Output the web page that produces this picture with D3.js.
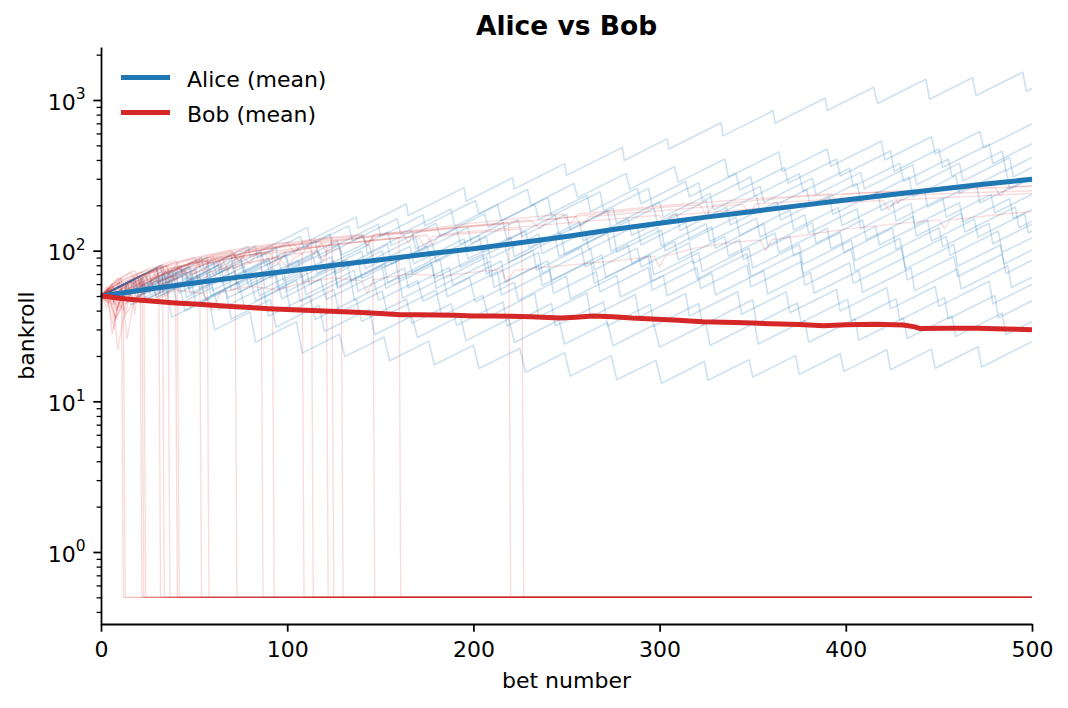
<!DOCTYPE html>
<html>
<head>
<meta charset="utf-8">
<script src="https://cdn.jsdelivr.net/npm/d3@7"></script>
<style>
  body { margin: 0; background: #fff; }
  svg { display: block; }
</style>
</head>
<body>
<div id="chart"></div>
<script>
// ---- data: [bet number, bankroll] ----
var xTicks = [0, 100, 200, 300, 400, 500];
var yMajorTicks = [1, 10, 100, 1000];

var aliceMean = [[0,50],[25,55.5],[50,61],[75,67],[100,73],[125,80],[150,87],[175,95],[200,103],[225,113],[250,124],
  [275,138],[300,152],[325,167],[350,182],[375,199],[400,217],[425,236],[450,256],[475,277],[500,298]];

var bobMean = [[0,50],[5,49.2],[10,48.3],[15,47.6],[20,47],[30,46],[40,45],[50,44.3],[60,43.5],[70,42.6],[80,41.9],
  [90,41.2],[100,40.7],[110,40.2],[120,39.7],[130,39.3],[140,38.9],[150,38.3],[161,37.5],[170,37.6],[180,37.4],
  [190,37.2],[200,36.9],[210,36.8],[220,36.7],[231,36.4],[240,36],[247,35.7],[255,36.2],[264,36.9],[275,36.4],
  [285,35.7],[296,35.2],[310,34.5],[323,33.8],[340,33.4],[350,33.1],[360,32.7],[375,32.3],[388,31.8],[400,32.2],
  [416,32.5],[431,32.1],[437,31.2],[440,30.4],[455,30.5],[471,30.6],[485,30.2],[500,29.9]];

// individual Alice runs (light blue sawtooth lines)
var alicePaths = [
  [[0,50],[26,72.6],[27,61.5],[54,90.4],[55,76.2],[79,107],[80,92],[111,143],[112,117],[137,167],[138,141],[164,204],[165,171],[195,262],[196,213],[221,304],[222,257],[249,378],[250,316],[280,485],[281,397],[304,552],[305,473],[333,706],[334,578],[361,849],[362,701],[389,1030],[390,851],[415,1216],[417,948],[443,1374],[445,1012],[468,1406],[470,1072],[495,1531],[497,1140],[500,1191]],
  [[0,50],[17,63.8],[18,55.6],[43,79.4],[44,64.6],[70,93.5],[71,75.5],[94,105],[95,86.7],[123,129],[124,105],[149,150],[150,124],[173,173],[174,146],[201,215],[203,176],[229,255],[231,200],[254,279],[256,225],[282,326],[284,256],[308,361],[310,284],[335,406],[337,308],[364,452],[366,336],[390,473],[392,363],[419,533],[421,400],[446,571],[448,439],[472,618],[474,480],[500,695]],
  [[0,50],[21,67.6],[23,55.7],[47,78.5],[49,62.8],[75,91],[77,71.4],[99,97.7],[101,79.8],[127,116],[129,93.3],[154,133],[156,108],[180,152],[182,125],[206,176],[208,143],[233,204],[235,161],[261,233],[263,182],[288,260],[290,205],[314,288],[316,228],[341,325],[343,253],[367,356],[369,280],[395,406],[397,313],[424,459],[426,336],[450,473],[452,356],[477,509],[479,379],[500,512]],
  [[0,50],[30,76.9],[31,62.1],[57,89.9],[58,74.8],[83,107],[84,89.5],[107,124],[109,104],[133,146],[135,116],[159,163],[161,129],[188,189],[190,145],[213,202],[215,158],[240,225],[242,170],[268,246],[270,184],[294,259],[296,197],[321,282],[323,213],[349,308],[351,230],[375,324],[377,247],[402,352],[404,266],[429,380],[431,288],[455,406],[457,312],[484,458],[486,340],[500,416]],
  [[0,50],[12,59.4],[14,52.6],[38,74.1],[40,57.5],[64,81.1],[66,63],[90,88.7],[92,68.9],[117,98.4],[119,77.3],[144,110],[146,87.5],[169,122],[171,98.2],[197,142],[199,112],[224,160],[226,124],[250,175],[252,137],[275,191],[277,152],[300,211],[302,167],[327,239],[329,187],[354,267],[356,209],[382,303],[384,235],[408,331],[410,257],[436,372],[438,274],[461,381],[463,290],[488,415],[490,309],[500,356]],
  [[0,50],[33,80.4],[35,60.4],[60,86.3],[62,69.7],[86,98.2],[88,79.8],[115,117],[117,89.1],[141,126],[143,95.9],[167,135],[169,103],[191,141],[193,110],[216,153],[218,118],[244,171],[246,127],[272,185],[274,138],[297,191],[299,148],[325,214],[327,163],[352,232],[354,178],[379,255],[381,196],[406,280],[408,213],[434,308],[436,227],[459,316],[461,240],[486,344],[488,256],[500,303]],
  [[0,50],[18,64.9],[20,52.5],[45,75],[47,55.8],[71,78.7],[73,59.3],[96,82.4],[98,62.8],[124,91],[126,70.3],[151,100],[153,78.5],[175,107],[177,86.9],[203,126],[205,97],[228,135],[230,105],[257,155],[259,116],[283,163],[285,126],[309,177],[311,136],[336,195],[338,148],[363,211],[365,160],[391,232],[393,174],[417,245],[419,185],[442,257],[444,195],[470,282],[472,207],[500,308]],
  [[0,50],[22,68.5],[24,55.1],[48,77.6],[50,61],[75,87.1],[77,67.8],[99,92.7],[101,74.3],[128,109],[130,77.8],[154,110],[156,81.1],[178,111],[180,84.3],[207,124],[209,89.1],[235,129],[237,95.7],[260,133],[262,102],[288,148],[290,109],[314,154],[316,117],[341,167],[343,126],[370,186],[372,137],[396,193],[398,147],[425,216],[427,157],[452,225],[454,167],[478,236],[480,178],[500,237]],
  [[0,50],[32,79.1],[34,52.5],[58,74],[60,54.5],[86,78.9],[88,56.6],[110,77.4],[112,59.8],[138,86.7],[140,65.5],[165,93.5],[167,71.4],[191,101],[193,77.6],[217,109],[219,84.1],[244,120],[246,91.2],[272,132],[274,99.1],[299,142],[301,107],[325,151],[327,115],[352,164],[354,123],[378,173],[380,131],[406,190],[408,140],[435,206],[437,148],[461,208],[463,155],[488,221],[490,163],[500,188]],
  [[0,50],[17,63.8],[19,53.1],[36,67.6],[38,56.1],[63,80.2],[65,61],[89,85.9],[91,65.8],[114,91.4],[116,70.6],[140,99.5],[142,75.9],[166,107],[168,81.7],[195,120],[197,88.3],[220,123],[222,91.4],[247,131],[249,94.4],[275,137],[277,97.5],[301,137],[303,100],[328,144],[330,104],[356,151],[358,108],[382,153],[384,112],[409,160],[411,118],[436,168],[438,125],[462,177],[464,133],[491,195],[493,142],[500,157]],
  [[0,50],[20,66.7],[22,50.9],[46,71.8],[48,51.8],[72,72.9],[74,52.7],[98,74.3],[100,53.7],[125,76.7],[127,57.5],[152,82.2],[154,61.5],[177,85.5],[179,65.6],[205,95.1],[207,70.1],[232,100],[234,74.3],[258,105],[260,78.3],[283,109],[285,82.6],[308,115],[310,86.9],[335,124],[337,91.8],[362,131],[364,97.3],[390,141],[392,103],[416,145],[418,109],[444,158],[446,116],[469,162],[471,123],[496,176],[498,131],[500,135]],
  [[0,50],[24,70.6],[26,52.8],[51,75.5],[53,56],[77,78.9],[79,59],[106,86.7],[108,61.9],[132,87.3],[134,63.1],[158,88.9],[160,64.3],[182,87.9],[184,65.3],[207,90.8],[209,67.1],[235,97.3],[237,70.8],[263,103],[265,74.5],[288,104],[290,78],[316,113],[318,82.4],[343,118],[345,87.3],[370,125],[372,92.3],[397,132],[399,97.5],[425,141],[427,102],[450,142],[452,106],[477,152],[479,111],[500,150]],
  [[0,50],[30,76.9],[32,50.1],[57,71.6],[59,50.1],[83,70.6],[85,50.1],[108,69.7],[110,51.1],[136,74],[138,53.7],[163,76.7],[165,56.5],[187,77.3],[189,59],[215,85.5],[217,61.7],[240,85.7],[242,63.8],[269,93.8],[271,66.5],[295,93.8],[297,68.9],[321,97],[323,72.6],[348,104],[350,76.7],[375,110],[377,81.1],[403,117],[405,85.9],[429,121],[431,89.5],[454,124],[456,93.1],[482,135],[484,97.5],[500,122]],
  [[0,50],[13,60.4],[15,51.1],[40,72.9],[42,52.6],[68,76.2],[70,54.3],[93,75.5],[95,56],[125,85.9],[127,56.2],[151,79.3],[153,56.2],[178,80.4],[180,56.2],[209,85.1],[211,57],[235,80.4],[237,58.7],[263,85.1],[265,60.7],[294,91.8],[296,62.8],[318,85.9],[320,64.9],[347,95.3],[349,67.5],[375,97.7],[377,70.1],[403,102],[405,72.9],[430,104],[432,75.7],[458,110],[460,78.7],[483,109],[485,81.5],[500,101]],
  [[0,50],[9,57],[12,49.5],[27,61.4],[30,48.8],[53,67.8],[56,47.6],[80,67.1],[83,46.5],[105,63.5],[107,46],[134,67.6],[136,47.2],[160,66.5],[162,48.4],[184,66.2],[186,49.4],[213,72.6],[215,50.8],[241,73.6],[243,52.1],[266,72.4],[268,53.3],[294,77.3],[296,54.7],[320,77.1],[322,56.1],[347,80.2],[349,57.5],[376,84.5],[378,59],[402,83.2],[404,60.7],[431,89.1],[433,64],[458,91.4],[460,67.3],[484,94.8],[486,70.6],[500,86.3]],
  [[0,50],[16,63],[19,49.7],[43,70],[46,49.1],[65,64.4],[68,48.5],[94,70.3],[97,48],[118,64.7],[121,47.4],[146,67.8],[149,46.8],[170,63.1],[173,46.2],[198,66.1],[201,45.7],[222,61.7],[224,46.8],[250,67.8],[252,48],[277,68.5],[279,49.2],[302,68.4],[304,50.2],[328,70.8],[330,50.8],[356,73.6],[358,51.5],[381,71.6],[383,52.1],[407,73.5],[409,53],[435,76.7],[437,54.3],[460,75.5],[462,55.6],[487,79.4],[489,57],[500,66.7]],
  [[0,50],[21,67.6],[24,47.4],[48,66.8],[51,44.6],[74,61.9],[77,42],[99,57.4],[102,39.7],[125,55.2],[128,38.8],[151,54],[154,37.8],[180,54.8],[183,36.9],[205,50.5],[208,36.3],[233,51.9],[235,36.3],[261,52.6],[263,36.3],[287,51.2],[289,36.3],[314,51.9],[316,36.8],[342,53.3],[344,37.8],[368,53.3],[370,38.7],[395,55.3],[397,39.7],[422,56.8],[424,41.1],[448,57.9],[450,42.7],[477,62.7],[479,44.4],[500,59.8]],
  [[0,50],[14,61.2],[17,47.3],[38,63.8],[41,43.6],[60,57.1],[63,40.4],[87,56.9],[90,36.7],[112,50.2],[115,34.9],[137,47.8],[140,33.9],[164,47.8],[167,32.9],[188,44.4],[191,32],[216,45.7],[218,31.6],[242,44.6],[244,31.6],[270,45.8],[272,31.6],[295,44],[297,31.6],[321,44.6],[323,32.1],[350,47.2],[352,32.8],[374,44.9],[376,33.3],[401,47.6],[403,34],[427,47.9],[429,34.6],[453,48.8],[455,35.2],[480,50.4],[482,35.9],[500,46.5]],
  [[0,50],[18,64.9],[21,45.1],[42,60.8],[45,39.9],[67,54.6],[70,35.2],[91,47.4],[94,31.1],[117,43.3],[120,29.1],[144,41],[147,27.7],[167,36.8],[170,26.5],[193,36.9],[196,25.3],[219,35.2],[222,24.6],[246,34.7],[249,24],[272,33.3],[275,23.4],[297,32.1],[300,22.9],[325,32.7],[327,23.5],[351,33.1],[353,24],[378,34.4],[380,24.7],[405,35.2],[407,25.4],[431,35.7],[433,26.1],[457,36.8],[459,26.9],[484,38.5],[486,27.7],[500,33.9]],
  [[0,50],[13,60.4],[16,43.8],[35,57.4],[38,36.2],[58,48.2],[61,29.8],[80,39.1],[83,24.7],[105,33.8],[108,20.9],[128,27.9],[131,19.8],[152,26.7],[155,18.6],[176,25.1],[179,17.5],[200,23.6],[203,16.5],[225,22.5],[228,15.6],[249,21],[252,14.7],[274,20.1],[277,13.9],[298,18.7],[301,13.2],[324,18.4],[326,13.8],[348,18.9],[350,14.5],[373,20.1],[375,15.1],[397,20.7],[399,15.8],[422,22],[424,16.2],[446,22.2],[448,16.6],[471,23],[473,16.9],[500,24.9]]
];

// individual Bob runs (light red); busted runs sit on the 0.5 floor
var bobPaths = [
  [[0,50],[4,56],[6,44],[9,52],[15,60],[20,64],[23,52],[26,62],[35,72],[45,79],[55,86],[62,80],[66,90],[80,98],[95,106],[104,110],[108,94],[112,112],[130,120],[150,127],[162,131],[165,112],[168,132],[190,143],[210,151],[230,160],[236,140],[240,160],[260,172],[285,185],[310,198],[322,201],[325,170],[329,200],[350,215],[380,230],[410,242],[425,245],[428,205],[432,244],[460,255],[485,262],[500,268]],
  [[0,50],[3,42],[5,50],[12,57],[18,66],[28,74],[31,58],[34,72],[44,80],[58,90],[70,97],[75,84],[78,98],[92,105],[110,113],[128,122],[140,126],[143,108],[146,127],[170,137],[195,150],[220,162],[248,175],[252,150],[256,175],[280,187],[305,200],[330,212],[360,225],[392,238],[395,210],[399,238],[430,250],[455,258],[480,265],[483,230],[487,264],[500,270]],
  [[0,50],[5,55],[8,40],[11,49],[18,58],[27,68],[40,78],[48,70],[52,81],[65,90],[85,100],[100,107],[118,115],[121,98],[124,116],[145,124],[170,133],[200,145],[225,155],[255,168],[258,145],[262,168],[290,180],[320,193],[345,203],[348,176],[352,204],[380,215],[410,227],[440,236],[470,243],[500,250]],
  [[0,50],[6,58],[9,47],[14,54],[24,63],[36,73],[50,82],[63,88],[66,74],[70,89],[88,98],[105,104],[125,111],[150,119],[175,127],[178,110],[182,128],[210,138],[240,149],[270,160],[300,172],[303,150],[307,172],[335,183],[365,195],[395,207],[420,216],[423,186],[427,216],[450,224],[475,232],[500,240]],
  [[0,50],[5,45],[8,36],[12,44],[20,50],[30,47],[40,55],[55,52],[60,40],[64,53],[80,58],[95,55],[110,62],[125,66],[140,63],[143,52],[146,64],[165,70],[185,68],[200,72],[215,75],[218,62],[222,74],[240,78],[260,82],[278,86],[297,92],[300,78],[303,92],[319,104],[335,112],[354,118],[357,100],[360,118],[386,131],[400,139],[425,150],[450,160],[453,140],[456,160],[475,170],[500,182]],
  [[0,50],[3,58],[6,48],[9,60],[11,66],[12,0.5],[500,0.5]],
  [[0,50],[4,44],[7,30],[9,42],[12,52],[13,0.5],[500,0.5]],
  [[0,50],[5,57],[8,46],[12,58],[16,64],[18,38],[20,55],[21,60],[22,0.5],[500,0.5]],
  [[0,50],[4,53],[7,34],[10,47],[15,56],[19,62],[22,66],[23,0.5],[500,0.5]],
  [[0,50],[6,60],[9,52],[14,64],[17,46],[20,60],[23,68],[24,0.5],[500,0.5]],
  [[0,50],[5,55],[10,62],[13,38],[16,54],[22,64],[26,52],[29,66],[31,72],[32,0.5],[500,0.5]],
  [[0,50],[4,47],[6,28],[9,44],[15,55],[20,62],[25,56],[28,66],[33,74],[34,0.5],[500,0.5]],
  [[0,50],[5,58],[9,65],[12,50],[15,64],[22,72],[26,62],[30,74],[36,80],[37,0.5],[500,0.5]],
  [[0,50],[3,46],[6,52],[11,58],[14,26],[17,42],[23,55],[30,64],[35,48],[38,62],[40,68],[41,0.5],[500,0.5]],
  [[0,50],[6,56],[10,64],[16,72],[20,58],[24,70],[32,80],[36,70],[41,82],[42,0.5],[500,0.5]],
  [[0,50],[5,54],[9,42],[13,55],[22,66],[30,74],[33,56],[37,72],[45,80],[50,84],[53,88],[54,0.5],[500,0.5]],
  [[0,50],[4,56],[8,48],[12,40],[16,52],[25,62],[35,72],[40,64],[44,74],[52,82],[57,86],[58,0.5],[500,0.5]],
  [[0,50],[6,58],[10,48],[14,60],[24,70],[32,77],[36,60],[40,76],[52,86],[60,92],[64,76],[67,90],[72,96],[73,0.5],[500,0.5]],
  [[0,50],[5,47],[8,35],[12,46],[20,58],[30,66],[42,76],[48,64],[52,78],[65,88],[75,94],[80,82],[83,94],[86,98],[87,0.5],[500,0.5]],
  [[0,50],[4,55],[8,62],[12,52],[17,64],[28,74],[38,82],[50,90],[55,72],[59,88],[72,97],[85,104],[92,108],[93,0.5],[500,0.5]],
  [[0,50],[6,54],[9,22],[12,36],[20,50],[30,58],[45,68],[58,76],[64,62],[68,75],[82,84],[95,90],[100,78],[104,90],[108,95],[109,0.5],[500,0.5]],
  [[0,50],[5,58],[10,66],[14,54],[20,66],[32,76],[45,85],[60,94],[70,100],[74,84],[78,100],[95,108],[108,114],[113,118],[114,0.5],[500,0.5]],
  [[0,50],[4,45],[7,52],[16,60],[26,68],[30,48],[34,64],[46,74],[60,84],[75,92],[90,98],[95,82],[99,97],[112,104],[121,108],[122,0.5],[500,0.5]],
  [[0,50],[6,60],[12,68],[18,74],[22,58],[26,72],[38,82],[52,91],[68,100],[85,108],[100,114],[104,96],[108,114],[120,120],[124,124],[125,0.5],[500,0.5]],
  [[0,50],[5,52],[9,40],[13,50],[24,60],[36,66],[50,74],[54,58],[58,72],[72,80],[88,88],[102,94],[116,100],[119,86],[122,99],[129,104],[130,0.5],[500,0.5]],
  [[0,50],[5,56],[12,64],[22,72],[35,80],[38,64],[42,78],[58,88],[75,96],[92,104],[110,112],[114,94],[118,112],[132,118],[146,124],[147,0.5],[500,0.5]],
  [[0,50],[4,54],[8,44],[12,54],[25,64],[40,74],[56,82],[72,90],[88,97],[92,80],[96,96],[112,104],[128,110],[144,116],[156,120],[160,122],[161,0.5],[500,0.5]],
  [[0,50],[6,57],[14,66],[26,76],[40,86],[44,70],[48,84],[62,94],[80,104],[100,113],[120,121],[140,128],[143,108],[147,128],[165,134],[185,141],[205,147],[219,152],[220,0.5],[500,0.5]],
  [[0,50],[5,52],[10,60],[20,68],[32,74],[48,82],[65,90],[68,74],[72,88],[90,96],[110,104],[130,111],[150,118],[170,124],[174,106],[178,124],[200,131],[215,136],[226,140],[227,0.5],[500,0.5]]
];

var legendItems = [
  { name: "Alice (mean)", color: "#1f77b4" },
  { name: "Bob (mean)", color: "#d62728" }
];

// ---- drawing ----
var width = 1068, height = 708;
var margin = { top: 47, right: 36, bottom: 84, left: 101 };
var font = "DejaVu Sans, sans-serif";

var svg = d3.select("#chart")
    .append("svg")
    .attr("width", width)
    .attr("height", height)
    .style("font-family", font);

var x = d3.scaleLinear()
    .domain([0, 500])
    .range([margin.left, width - margin.right]);

var y = d3.scaleLog()
    .domain([0.3327, 2248])
    .range([height - margin.bottom, margin.top]);

var line = d3.line()
    .x(d => x(d[0]))
    .y(d => y(d[1]));

// thin runs
svg.append("g")
    .selectAll("path")
    .data(alicePaths)
    .enter()
    .append("path")
    .attr("d", line)
    .attr("fill", "none")
    .attr("stroke", "#1f77b4")
    .attr("stroke-opacity", 0.22)
    .attr("stroke-width", 1.6)
    .attr("stroke-linejoin", "round");

svg.append("g")
    .selectAll("path")
    .data(bobPaths)
    .enter()
    .append("path")
    .attr("d", line)
    .attr("fill", "none")
    .attr("stroke", "#d62728")
    .attr("stroke-opacity", 0.16)
    .attr("stroke-width", 1.4)
    .attr("stroke-linejoin", "round");

// mean lines
svg.append("path")
    .datum(aliceMean)
    .attr("d", line)
    .attr("fill", "none")
    .attr("stroke", "#1f77b4")
    .attr("stroke-width", 5);

svg.append("path")
    .datum(bobMean)
    .attr("d", line)
    .attr("fill", "none")
    .attr("stroke", "#d62728")
    .attr("stroke-width", 5)
    .attr("stroke-linejoin", "round");

// x axis
var xAxis = svg.append("g")
    .attr("transform", "translate(0," + (height - margin.bottom) + ")")
    .call(d3.axisBottom(x).tickValues(xTicks).tickSize(7.7).tickSizeOuter(0).tickPadding(10));
xAxis.selectAll("text").attr("font-size", 22).attr("font-family", font).attr("fill", "#000");
xAxis.selectAll("line,path").attr("stroke", "#000").attr("stroke-width", 1.76);

// y axis: minor ticks first
var yMinorTicks = [];
[0.1, 1, 10, 100, 1000].forEach(function (dec) {
    for (var m = 2; m <= 9; m++) {
        var v = m * dec;
        if (v >= y.domain()[0] && v <= y.domain()[1]) yMinorTicks.push(v);
    }
});
var yMinor = svg.append("g")
    .attr("transform", "translate(" + margin.left + ",0)")
    .call(d3.axisLeft(y).tickValues(yMinorTicks).tickSize(4.4).tickFormat(""));
yMinor.select(".domain").remove();
yMinor.selectAll("line").attr("stroke", "#000").attr("stroke-width", 1.3);

var yAxis = svg.append("g")
    .attr("transform", "translate(" + margin.left + ",0)")
    .call(d3.axisLeft(y).tickValues(yMajorTicks).tickSize(7.7).tickSizeOuter(0).tickPadding(7.7).tickFormat(""));
yAxis.selectAll("line,path").attr("stroke", "#000").attr("stroke-width", 1.76);
yAxis.selectAll(".tick text")
    .attr("font-size", 22)
    .attr("font-family", font)
    .attr("fill", "#000")
    .attr("dy", "0.42em")
    .each(function (d) {
        var t = d3.select(this);
        t.append("tspan").text("10");
        t.append("tspan").attr("dy", -10.5).attr("font-size", 15.5).text(Math.round(Math.log10(d)));
    });

// labels and title
svg.append("text")
    .attr("x", (x(0) + x(500)) / 2)
    .attr("y", 688)
    .attr("text-anchor", "middle")
    .attr("font-size", 22)
    .text("bet number");

svg.append("text")
    .attr("transform", "translate(34," + ((y.range()[0] + y.range()[1]) / 2) + ") rotate(-90)")
    .attr("text-anchor", "middle")
    .attr("font-size", 22)
    .text("bankroll");

svg.append("text")
    .attr("x", (x(0) + x(500)) / 2)
    .attr("y", 35)
    .attr("text-anchor", "middle")
    .attr("font-size", 26.5)
    .attr("font-weight", "bold")
    .text("Alice vs Bob");

// legend (no frame)
var legend = svg.append("g");
legendItems.forEach(function (item, i) {
    var ly = 77.5 + i * 35;
    legend.append("line")
        .attr("x1", 121).attr("x2", 170)
        .attr("y1", ly).attr("y2", ly)
        .attr("stroke", item.color)
        .attr("stroke-width", 5);
    legend.append("text")
        .attr("x", 187)
        .attr("y", ly + 9.5)
        .attr("font-size", 22)
        .text(item.name);
});
</script>
</body>
</html>
